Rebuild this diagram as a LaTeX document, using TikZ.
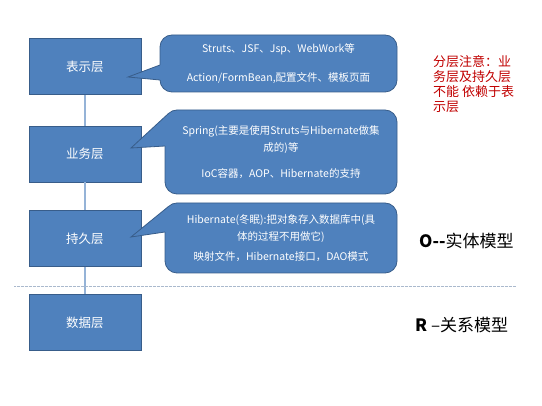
\documentclass[tikz,border=0pt]{standalone}
\usepackage{fontspec}
\setmainfont{Noto Sans CJK SC}
\usetikzlibrary{calc}

\definecolor{layerblue}{RGB}{79,129,189}
\definecolor{layeredge}{RGB}{56,93,138}
\definecolor{linkblue}{RGB}{149,179,215}
\definecolor{notered}{RGB}{192,0,0}
\definecolor{sepgray}{RGB}{170,185,205}

\tikzset{
  layer/.style={draw=layeredge, fill=layerblue, line width=0.8pt, minimum width=112pt,
    minimum height=56pt, inner sep=0pt, text=white, font=\fontsize{12.5}{15}\selectfont},
  note/.style={draw=layeredge, fill=layerblue, line width=0.8pt, rounded corners=12pt,
    inner sep=0pt, text=white, align=center, font=\fontsize{10.5}{17}\selectfont},
  link/.style={draw=linkblue, line width=1.5pt},
  wedge/.style={draw=layeredge, line width=0.8pt},
}

\begin{document}
\begin{tikzpicture}[x=1pt,y=-1pt]
    \useasboundingbox (0,0) rectangle (542,406);

    % --- 四个层 ---
    \node[layer] (ui) at (85,66.5) {表示层};
    \node[layer] (biz) at (85,154) {业务层};
    \node[layer] (persist) at (85,238.5) {持久层};
    \node[layer] (data) at (85,322.5) {数据层};

    % --- 层之间的连线 ---
    \draw[link] (ui.south) -- (biz.north);
    \draw[link] (biz.south) -- (persist.north);
    \draw[link] (persist.south) -- (data.north);

    % --- 说明框 ---
    \node[note, minimum width=237pt, minimum height=57pt] (uinote) at (278.5,63.5)
        {Struts、JSF、Jsp、WebWork等\\[12pt]Action/FormBean,配置文件、模板页面};
    \node[note, minimum width=232pt, minimum height=84pt] (biznote) at (281,152)
        {Spring(主要是使用Struts与Hibernate做集\\成的)等\\[9pt]IoC容器，AOP、Hibernate的支持};
    \node[note, minimum width=232pt, minimum height=70pt] (persistnote) at (281,238)
        {Hibernate(冬眠):把对象存入数据库中(具\\体的过程不用做它)\\[3pt]映射文件，Hibernate接口，DAO模式};

    % --- 说明框的尖角 ---
    \coordinate (uitip) at (128,77);
    \coordinate (uib1) at (160,65);
    \coordinate (uib2) at (160,80);
    \fill[layerblue] (uitip) -- (uib1) -- ($(uib1)+(4,0)$) -- ($(uib2)+(4,0)$) -- (uib2) -- cycle;
    \draw[wedge] (uib1) -- (uitip) -- (uib2);

    \coordinate (biztip) at (131,148);
    \coordinate (bizb1) at (168.5,113.5);
    \coordinate (bizb2) at (165,146);
    \fill[layerblue] (biztip) -- (bizb1) -- ($(bizb1)+(5,5)$) -- ($(bizb2)+(5,0)$) -- (bizb2) -- cycle;
    \draw[wedge] (bizb1) -- (biztip) -- (bizb2);

    \coordinate (persisttip) at (131,237);
    \coordinate (persistb1) at (168.5,206.5);
    \coordinate (persistb2) at (165,232);
    \fill[layerblue] (persisttip) -- (persistb1) -- ($(persistb1)+(5,5)$) -- ($(persistb2)+(5,0)$) -- (persistb2) -- cycle;
    \draw[wedge] (persistb1) -- (persisttip) -- (persistb2);

    % --- O/R 分界线 ---
    \coordinate (sepL) at (14,287);
    \coordinate (sepR) at (516,287);
    \draw[sepgray, line width=1pt, dash pattern=on 1.5pt off 1pt on 0.5pt off 1pt] (sepL) -- (sepR);

    % --- 右侧文字 ---
    \node[anchor=north west, text=notered, align=left, inner sep=0pt,
        font=\fontsize{13}{15}\selectfont] (rule) at (433,55)
        {分层注意：业\\务层及持久层\\不能 依赖于表\\示层};
    \node[anchor=west, inner sep=0pt, font=\fontsize{17}{20}\selectfont] (omodel) at (419,241)
        {\textbf{O-{}-}实体模型};
    \node[anchor=west, inner sep=0pt, font=\fontsize{17}{20}\selectfont] (rmodel) at (415,325)
        {\textbf{R} –关系模型};

\end{tikzpicture}
\end{document}
